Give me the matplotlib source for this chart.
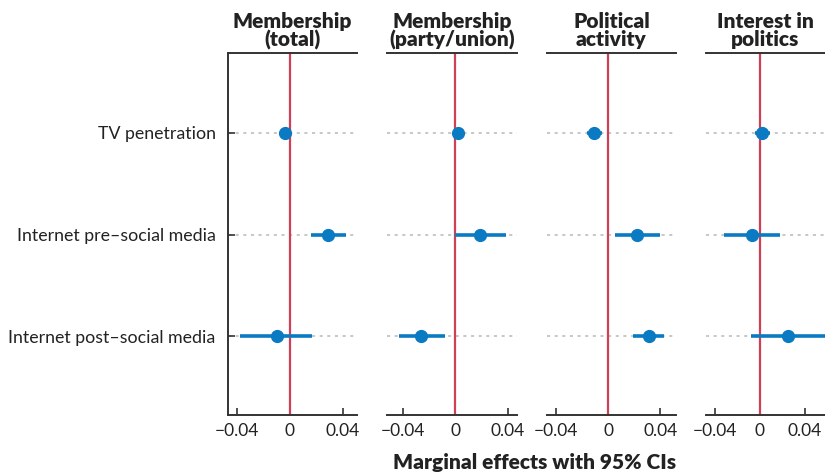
import numpy as np
import matplotlib
matplotlib.use("Agg")
import matplotlib.pyplot as plt

# rows, top to bottom
predictors = ["TV penetration", "Internet pre\u2013social media", "Internet post\u2013social media"]
panel_titles = ["Membership\n(total)", "Membership\n(party/union)", "Political\nactivity", "Interest in\npolitics"]

# point estimates per panel (rows in predictor order)
est_total = [-0.004, 0.029, -0.010]
est_party = [0.002, 0.019, -0.026]
est_activity = [-0.011, 0.022, 0.031]
est_interest = [0.002, -0.007, 0.025]

# 95% CI bounds
lo_total = [-0.006, 0.016, -0.038]
hi_total = [-0.002, 0.043, 0.017]
lo_party = [0.000, 0.000, -0.043]
hi_party = [0.004, 0.039, -0.008]
lo_activity = [-0.016, 0.005, 0.019]
hi_activity = [-0.005, 0.040, 0.043]
lo_interest = [-0.004, -0.032, -0.008]
hi_interest = [0.009, 0.018, 0.062]

estimates = [est_total, est_party, est_activity, est_interest]
lows = [lo_total, lo_party, lo_activity, lo_interest]
highs = [hi_total, hi_party, hi_activity, hi_interest]
xlims = [(-0.047, 0.051), (-0.052, 0.047), (-0.047, 0.052), (-0.048, 0.058)]
ticks = [-0.04, 0, 0.04]
tick_labels = ["\u22120.04", "0", "0.04"]

W, H = 825, 476
fig = plt.figure(figsize=(W / 100, H / 100), dpi=100)
plt.rcParams['font.family'] = ['Lato', 'DejaVu Sans']

# axes boxes in pixels (left, right)
boxes = [(228, 357), (387, 517), (547, 676), (706, 825)]
top_px, bot_px = 53, 415

blue = '#0a7bc2'
red = '#cf3f55'
dark = '#333333'
ypos = np.arange(1, len(predictors) + 1)

for i, (l, r) in enumerate(boxes):
    ax = fig.add_axes([l / W, (H - bot_px) / H, (r - l) / W, (bot_px - top_px) / H])
    ax.set_xlim(*xlims[i])
    ax.set_ylim(3.77, 0.22)
    for y in ypos:
        ax.axhline(y, color='#b8b8b8', lw=1.1, ls=(0, (2, 3)), zorder=1)
    ax.axvline(0, color=red, lw=1.6, zorder=2)
    est = np.array(estimates[i])
    ax.hlines(ypos, lows[i], highs[i], color=blue, lw=2.6, zorder=3)
    ax.plot(est, ypos, 'o', color=blue, ms=8.5, zorder=4)

    ax.spines['right'].set_visible(False)
    ax.spines['left'].set_visible(i == 0)
    for s in ['top', 'bottom', 'left']:
        ax.spines[s].set_color(dark)
        ax.spines[s].set_linewidth(1.4)

    ax.set_xticks(ticks)
    ax.set_xticklabels(tick_labels)
    ax.tick_params(axis='x', direction='in', length=5, width=1.2, color=dark,
                   labelsize=12.5, labelcolor='#222222', pad=6)
    if i == 0:
        ax.set_yticks(ypos)
        ax.set_yticklabels(predictors)
        ax.tick_params(axis='y', direction='in', length=5, width=1.2, color=dark,
                       labelsize=12.8, labelcolor='#222222', pad=9)
    else:
        ax.set_yticks([])
    ax.set_title(panel_titles[i], fontsize=15, fontweight='heavy', color='#222222',
                 linespacing=0.92, pad=5)

fig.text(535 / W, 1 - 463 / H, "Marginal effects with 95% CIs", ha='center', va='center',
         fontsize=15, fontweight='heavy', color='#222222')

fig.savefig("out.png", dpi=100)
